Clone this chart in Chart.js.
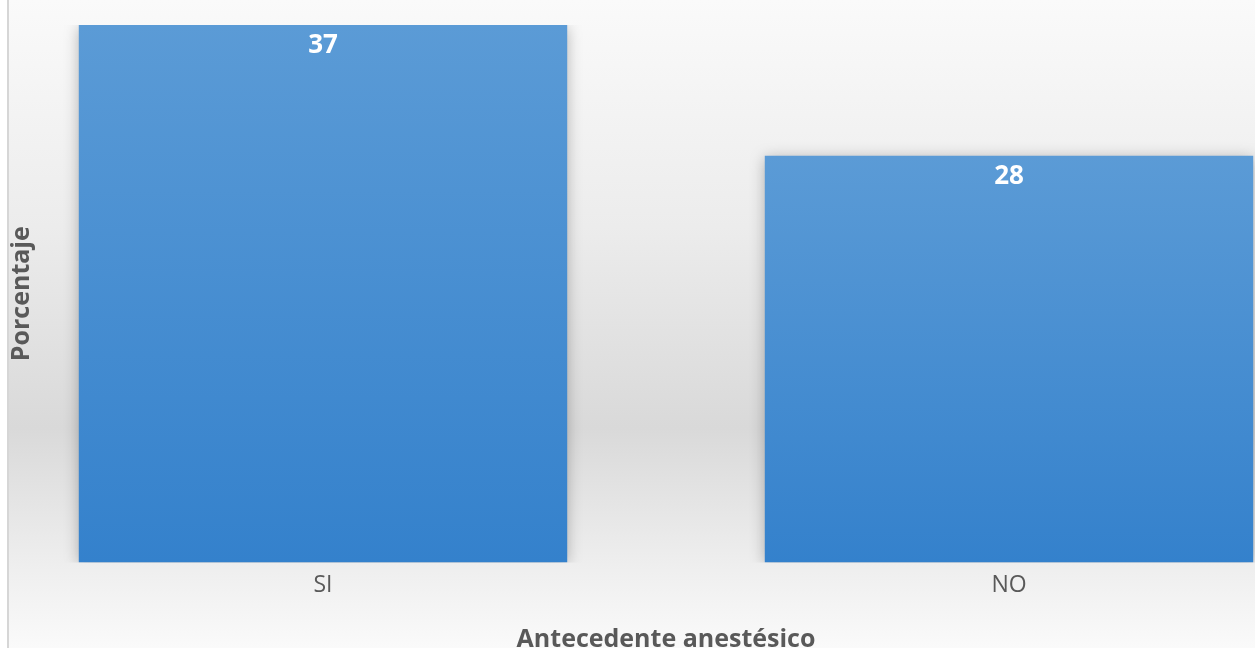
<!DOCTYPE html>
<html lang="es">
<head>
<meta charset="utf-8">
<title>Antecedente anestésico</title>
<script src="https://cdn.jsdelivr.net/npm/chart.js@4/dist/chart.umd.min.js"></script>
<style>
    html, body {
        margin: 0;
        width: 1255px;
        height: 648px;
        overflow: hidden;
    }
    body {
        position: relative;
        background: linear-gradient(to bottom, #fafafa 0%, #ececec 35%, #d9d9d9 66%, #efefef 88%, #fafafa 100%);
    }
    /* franja blanca y borde izquierdo del gráfico */
    #borde {
        position: absolute;
        left: 0;
        top: 0;
        width: 7px;
        height: 648px;
        background: #ffffff;
        border-right: 2px solid #d6d6d6;
    }
    #contenedor {
        position: absolute;
        left: -20px;
        top: 0;
        width: 1372px;
        height: 680px;
    }
</style>
</head>
<body>
<div id="borde"></div>
<div id="contenedor"><canvas id="grafico"></canvas></div>
<script>
// Datos del gráfico
const categorias = ['SI', 'NO'];
const valores = [37, 28];
const tituloX = 'Antecedente anestésico';
const tituloY = 'Porcentaje';

const FUENTE = '"Open Sans", "DejaVu Sans", sans-serif';
const GRIS = '#595959';

// Degradado vertical de cada barra (claro arriba, más oscuro abajo)
function colorBarra(context) {
    const chart = context.chart;
    const area = chart.chartArea;
    if (!area || !chart.scales.y) return '#4a8fd2';
    const valor = context.raw;
    const arriba = chart.scales.y.getPixelForValue(valor);
    const abajo = chart.scales.y.getPixelForValue(0);
    const g = chart.ctx.createLinearGradient(0, arriba, 0, abajo);
    g.addColorStop(0, '#5b9bd6');
    g.addColorStop(1, '#3481cc');
    return g;
}

// Sombra suave alrededor de las barras
const sombraBarras = {
    id: 'sombraBarras',
    beforeDatasetsDraw(chart) {
        const ctx = chart.ctx;
        ctx.save();
        ctx.shadowColor = 'rgba(0, 0, 0, 0.28)';
        ctx.shadowBlur = 14;
        ctx.shadowOffsetX = 0;
        ctx.shadowOffsetY = 2;
    },
    afterDatasetsDraw(chart) {
        chart.ctx.restore();
    }
};

// Etiquetas de valor dentro de las barras
const etiquetasValor = {
    id: 'etiquetasValor',
    afterDatasetsDraw(chart) {
        const ctx = chart.ctx;
        const meta = chart.getDatasetMeta(0);
        ctx.save();
        ctx.font = 'bold 26px ' + FUENTE;
        ctx.fillStyle = '#ffffff';
        ctx.textAlign = 'center';
        ctx.textBaseline = 'alphabetic';
        meta.data.forEach((barra, i) => {
            ctx.fillText(String(valores[i]), barra.x, barra.y + 28);
        });
        ctx.restore();
    }
};

// Título del eje vertical, superpuesto al borde izquierdo
const tituloEjeY = {
    id: 'tituloEjeY',
    afterDraw(chart) {
        const ctx = chart.ctx;
        const area = chart.chartArea;
        ctx.save();
        ctx.translate(42, (area.top + area.bottom) / 2);
        ctx.rotate(-Math.PI / 2);
        ctx.font = 'bold 25px ' + FUENTE;
        ctx.fillStyle = GRIS;
        ctx.textAlign = 'center';
        ctx.textBaseline = 'middle';
        ctx.fillText(tituloY, 0, 0);
        ctx.restore();
    }
};

new Chart(document.getElementById('grafico'), {
    type: 'bar',
    data: {
        labels: categorias,
        datasets: [{
            data: valores,
            backgroundColor: colorBarra,
            borderWidth: 0,
            categoryPercentage: 1,
            barPercentage: 0.712
        }]
    },
    options: {
        responsive: true,
        maintainAspectRatio: false,
        animation: false,
        layout: {
            padding: { top: 25, left: 0, right: 0, bottom: 25 }
        },
        plugins: {
            legend: { display: false },
            tooltip: { enabled: false }
        },
        scales: {
            x: {
                grid: { display: false, drawTicks: false },
                border: { display: false },
                ticks: {
                    color: GRIS,
                    padding: 9,
                    font: { family: FUENTE, size: 23 }
                },
                title: {
                    display: true,
                    text: tituloX,
                    color: GRIS,
                    padding: { top: 17, bottom: 0 },
                    font: { family: FUENTE, size: 25, weight: 'bold' }
                }
            },
            y: {
                display: false,
                min: 0,
                max: 37
            }
        }
    },
    plugins: [sombraBarras, etiquetasValor, tituloEjeY]
});
</script>
</body>
</html>
